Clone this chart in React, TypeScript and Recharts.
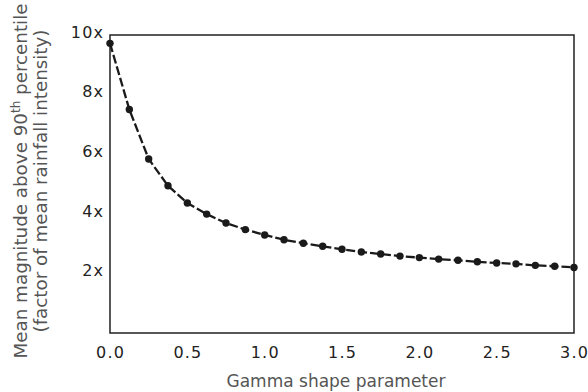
import { LineChart, Line, XAxis, YAxis, ReferenceArea } from 'recharts';

const shapeParams = [
  0, 0.125, 0.25, 0.375, 0.5, 0.625, 0.75, 0.875, 1.0, 1.125, 1.25, 1.375, 1.5,
  1.625, 1.75, 1.875, 2.0, 2.125, 2.25, 2.375, 2.5, 2.625, 2.75, 2.875, 3.0,
];
const magnitudes = [
  9.72, 7.5, 5.84, 4.94, 4.36, 3.99, 3.69, 3.47, 3.29, 3.13, 3.01, 2.91, 2.81,
  2.72, 2.65, 2.58, 2.53, 2.48, 2.44, 2.39, 2.35, 2.32, 2.27, 2.24, 2.2,
];
const xTicks = [0, 0.5, 1.0, 1.5, 2.0, 2.5, 3.0];
const yTicks = [2, 4, 6, 8, 10];

const data = shapeParams.map((x, i) => ({ x, y: magnitudes[i] }));

const FONT = 'DejaVu Sans';

function XTick({ x, y, payload }: any) {
  return (
    <text x={x + 0.6} y={y} dy={11.4} textAnchor="middle" fontFamily={FONT} fontSize={16} letterSpacing={1.2} fill="#222">
      {payload.value.toFixed(1)}
    </text>
  );
}

function YTick({ x, y, payload }: any) {
  return (
    <text x={x + 1.2} y={y - 3} dy={5.7} textAnchor="end" fontFamily={FONT} fontSize={16} letterSpacing={1.2} fill="#222">
      {payload.value}x
    </text>
  );
}

function XTitle() {
  return (
    <text x={336} y={387} textAnchor="middle" fontFamily={FONT} fontSize={17} fill="#555">
      Gamma shape parameter
    </text>
  );
}

function YTitle() {
  return (
    <g fontFamily={FONT} fontSize={18.3} fill="#555">
      <text transform="rotate(-90)" x={-181} y={27} textAnchor="middle">
        Mean magnitude above 90<tspan dy={-7} fontSize={12}>th</tspan>
        <tspan dy={7}> percentile</tspan>
      </text>
      <text transform="rotate(-90)" x={-181} y={47} textAnchor="middle">
        (factor of mean rainfall intensity)
      </text>
    </g>
  );
}

export default function App() {
  return (
    <div style={{ position: 'absolute', left: 0, top: 0, background: '#fff' }}>
      <LineChart width={588} height={392} data={data} margin={{ top: 35, right: 14, left: 0, bottom: 0 }}>
        <XAxis
          dataKey="x"
          type="number"
          domain={[0, 3]}
          ticks={xTicks}
          height={59}
          axisLine={false}
          tickLine={false}
          tickSize={0}
          tickMargin={14}
          tick={<XTick />}
          label={{ content: <XTitle /> }}
        />
        <YAxis
          type="number"
          domain={[0, 10]}
          ticks={yTicks}
          width={110}
          axisLine={false}
          tickLine={false}
          tickSize={0}
          tickMargin={7}
          tick={<YTick />}
          label={{ content: <YTitle /> }}
        />
        <ReferenceArea x1={0} x2={3} y1={0} y2={10} fill="none" stroke="#222" strokeWidth={1.5} />
        <Line
          dataKey="y"
          type="linear"
          stroke="#1a1a1a"
          strokeWidth={2.3}
          strokeDasharray="9 3"
          dot={{ r: 3.7, fill: '#1a1a1a', stroke: 'none' }}
          activeDot={false}
          isAnimationActive={false}
        />
      </LineChart>
    </div>
  );
}
